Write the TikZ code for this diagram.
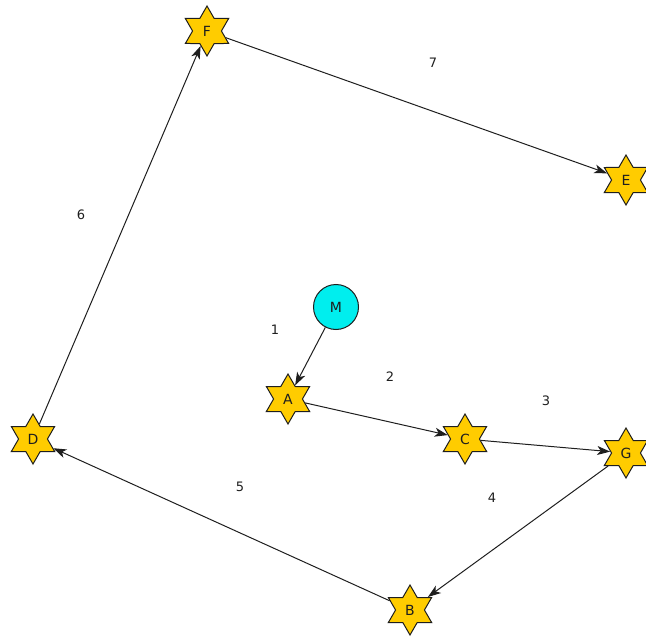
\documentclass[tikz,border=0pt]{standalone}
\usepackage{fontspec}
\setmainfont{DejaVu Sans}
\usetikzlibrary{shapes.geometric,arrows.meta}
\definecolor{gold}{RGB}{255,204,0}
\definecolor{aqua}{RGB}{0,238,238}
\definecolor{ink}{RGB}{30,30,30}
\begin{document}
\begin{tikzpicture}[x=1pt,y=-1pt,
  starnode/.style={star,star points=6,star point ratio=1.732,draw=ink,fill=gold,
    line width=1pt,inner sep=0pt,minimum size=50pt,font=\fontsize{14}{16}\selectfont,text=ink},
  circnode/.style={circle,draw=ink,fill=aqua,line width=1pt,inner sep=0pt,
    minimum size=45pt,font=\fontsize{14}{16}\selectfont,text=ink},
  conn/.style={draw=ink,line width=1pt,-{Stealth[length=13pt,width=9pt,inset=3.5pt]}},
  lbl/.style={font=\fontsize{13}{15}\selectfont,text=ink}]
\useasboundingbox (0,0) rectangle (646,642);
\node[starnode] (F) at (207,31) {F};
\node[starnode] (E) at (626,180) {E};
\node[circnode] (M) at (336,307) {M};
\node[starnode] (A) at (288,399) {A};
\node[starnode] (C) at (465,439) {C};
\node[starnode] (G) at (626,453) {G};
\node[starnode] (D) at (33,439) {D};
\node[starnode] (B) at (410,610) {B};
\draw[conn] (M) -- (A);
\draw[conn] (A) -- (C);
\draw[conn] (C) -- (G);
\draw[conn] (G) -- (B);
\draw[conn] (B) -- (D);
\draw[conn] (D) -- (F);
\draw[conn] (F) -- (E);
\node[lbl] (l1) at (275,330) {1};
\node[lbl] (l2) at (390,377) {2};
\node[lbl] (l3) at (546,401) {3};
\node[lbl] (l4) at (492,498) {4};
\node[lbl] (l5) at (240,487) {5};
\node[lbl] (l6) at (81,215) {6};
\node[lbl] (l7) at (433,63) {7};
\end{tikzpicture}
\end{document}
